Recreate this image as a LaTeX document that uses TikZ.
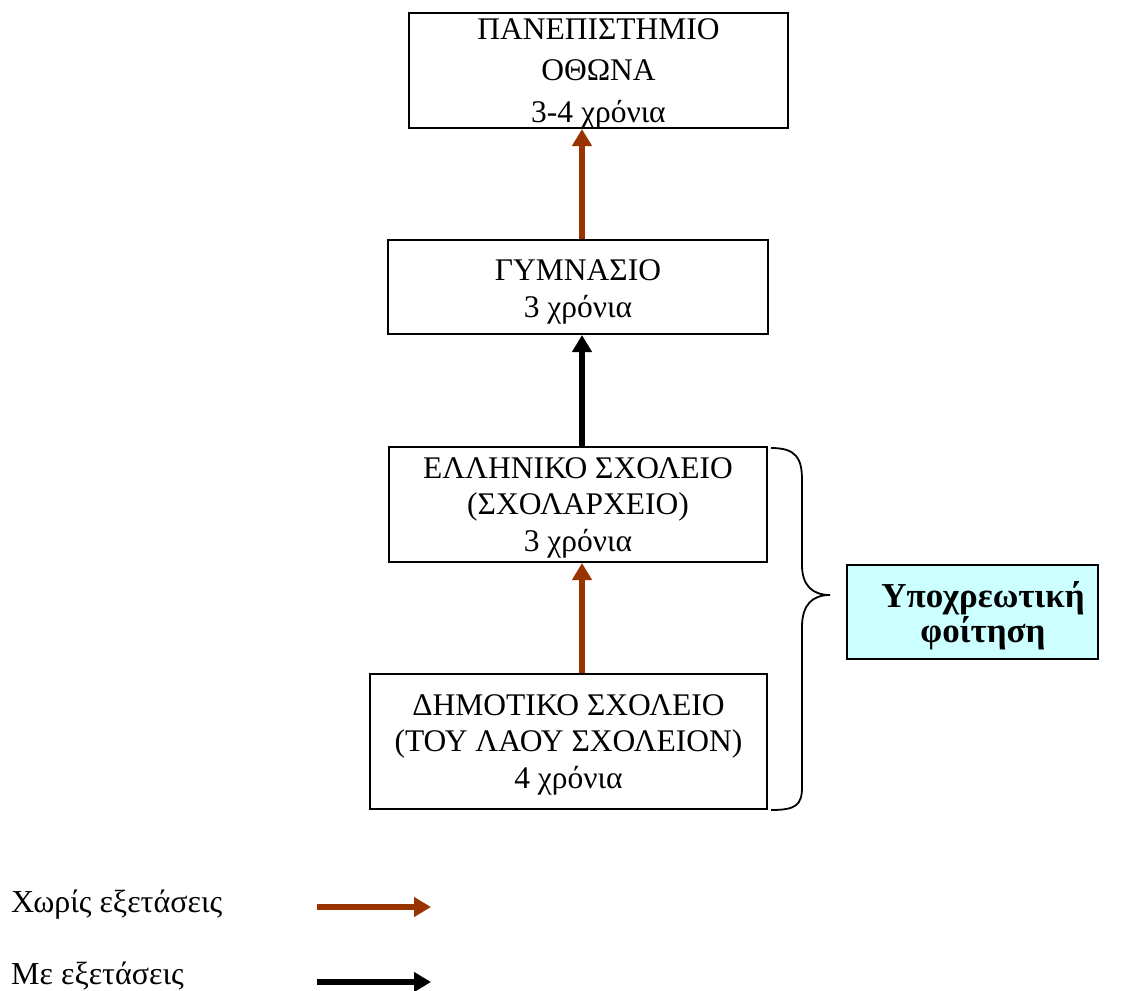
\documentclass[tikz,border=0pt]{standalone}
\usepackage{fontspec}
\setmainfont{Liberation Serif}
\usetikzlibrary{arrows.meta}
\definecolor{brn}{HTML}{993300}
\definecolor{cyanbg}{HTML}{CCFFFF}
\tikzset{
  box/.style={draw, line width=2pt, inner sep=0pt},
  boxtext/.style={font=\fontsize{31.5pt}{36.5pt}\selectfont, align=center, anchor=base, inner sep=0pt},
  brownarrow/.style={draw=brn, line width=6pt, -{Triangle[width=19pt,length=17pt]}},
  blackarrow/.style={draw=black, line width=6pt, -{Triangle[width=19pt,length=17pt]}},
  legtext/.style={font=\fontsize{32pt}{38pt}\selectfont, anchor=base west, inner sep=0pt},
}
\begin{document}
\begin{tikzpicture}[x=1pt,y=-1pt]
\useasboundingbox (0,0) rectangle (1121,990);
% boxes
\node[box, minimum width=379pt, minimum height=115pt] (uni) at (598.5,70.5) {};
\node[boxtext, font=\fontsize{31.5pt}{41.5pt}\selectfont] (unit) at (598.5,122) {ΠΑΝΕΠΙΣΤΗΜΙΟ\\ΟΘΩΝΑ\\3-4 χρόνια};
\node[box, minimum width=380pt, minimum height=94pt] (gym) at (578,287) {};
\node[boxtext] (gymt) at (578,317) {ΓΥΜΝΑΣΙΟ\\3 χρόνια};
\node[box, minimum width=378pt, minimum height=115pt] (ell) at (578,504.5) {};
\node[boxtext] (ellt) at (578,551) {ΕΛΛΗΝΙΚΟ ΣΧΟΛΕΙΟ\\(ΣΧΟΛΑΡΧΕΙΟ)\\3 χρόνια};
\node[box, minimum width=397pt, minimum height=135pt] (dim) at (568.5,741.5) {};
\node[boxtext] (dimt) at (568.5,788) {ΔΗΜΟΤΙΚΟ ΣΧΟΛΕΙΟ\\(ΤΟΥ ΛΑΟΥ ΣΧΟΛΕΙΟΝ)\\4 χρόνια};
% connectors
\coordinate (ax) at (582,0);
\draw[brownarrow] (ax |- gym.north) -- (ax |- uni.south);
\draw[blackarrow] (ax |- ell.north) -- (ax |- gym.south);
\draw[brownarrow] (ax |- dim.north) -- (ax |- ell.south);
% brace
\draw[line width=1.8pt] (771,448) .. controls (796,448) and (802,458) .. (802,480)
  -- (802,565) .. controls (802,585) and (812,595) .. (830,595)
  .. controls (812,595) and (802,605) .. (802,627)
  -- (802,787) .. controls (802,805) and (796,810) .. (771,810);
% compulsory box
\node[draw, fill=cyanbg, line width=2pt, minimum width=251pt, minimum height=94pt] (obl) at (972.5,612) {};
\node[font=\bfseries\fontsize{35pt}{32pt}\selectfont, align=center, anchor=base, inner sep=0pt] (oblt) at (983,642) {Υποχρεωτική\\φοίτηση};
% legend
\node[legtext] (leg1) at (11,912) {Χωρίς εξετάσεις};
\node[legtext] (leg2) at (11,984) {Με εξετάσεις};
\coordinate (l1s) at (317,907);
\coordinate (l1e) at (431,907);
\coordinate (l2s) at (317,982);
\coordinate (l2e) at (431,982);
\draw[brownarrow] (l1s) -- (l1e);
\draw[blackarrow] (l2s) -- (l2e);
\end{tikzpicture}
\end{document}
